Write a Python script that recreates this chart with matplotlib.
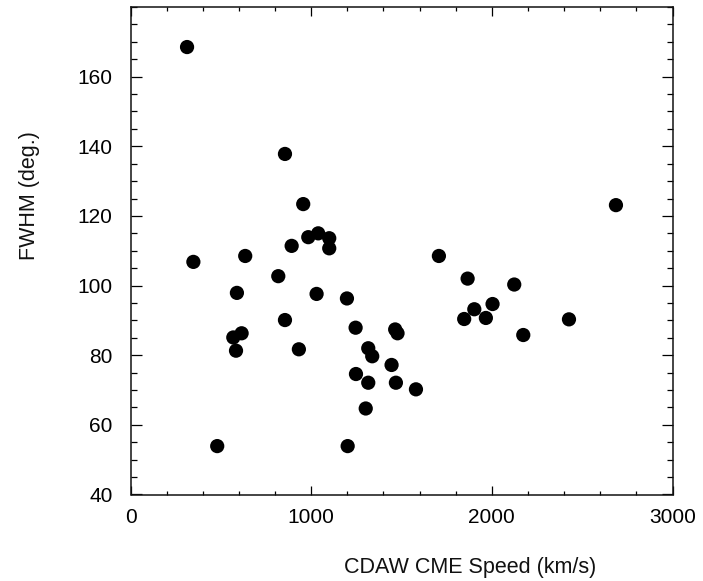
import matplotlib
matplotlib.use("Agg")
import matplotlib.pyplot as plt
from matplotlib.ticker import MultipleLocator

# CME speed (km/s) and FWHM (deg.)
speed = [313, 855, 956, 984, 1039, 1100, 1100, 892, 348, 635,
         818, 589, 1030, 1198, 855, 1246, 1465, 1478, 569, 615,
         584, 932, 1316, 1338, 1445, 1248, 1316, 1469, 1580, 1302,
         480, 1202, 1707, 1866, 2124, 2004, 1903, 1847, 1967, 2427,
         2174, 2687]
fwhm = [168.5, 137.8, 123.4, 113.9, 115.0, 113.6, 110.7, 111.4, 106.8, 108.5,
        102.7, 97.9, 97.6, 96.3, 90.1, 87.9, 87.4, 86.3, 85.1, 86.3,
        81.3, 81.7, 82.0, 79.7, 77.2, 74.6, 72.1, 72.1, 70.2, 64.7,
        53.9, 53.9, 108.5, 102.0, 100.3, 94.7, 93.2, 90.4, 90.7, 90.3,
        85.8, 123.1]

x_ticks = [0, 1000, 2000, 3000]
y_ticks = [40, 60, 80, 100, 120, 140, 160]

plt.rcParams.update({
    "font.family": ["Liberation Sans", "DejaVu Sans"],
    "font.size": 15,
    "text.color": "#111111",
})

fig = plt.figure(figsize=(7.03, 5.81), dpi=100)
ax = fig.add_axes([130.5 / 703, 86.5 / 581, 542 / 703, 487.5 / 581])

ax.scatter(speed, fwhm, s=105, color="black", edgecolors="none", zorder=3)

ax.set_xlim(0, 3000)
ax.set_ylim(40, 180)
ax.set_xticks(x_ticks)
ax.set_yticks(y_ticks)
ax.xaxis.set_minor_locator(MultipleLocator(200))
ax.yaxis.set_minor_locator(MultipleLocator(5))

for s in ax.spines.values():
    s.set_linewidth(1.1)
    s.set_color("#111111")

ax.tick_params(axis="x", which="major", direction="in", length=6.5, width=0.9,
               top=True, bottom=True, pad=10, labelsize=15)
ax.tick_params(axis="x", which="minor", direction="in", length=3, width=0.9,
               top=True, bottom=True)
ax.tick_params(axis="y", which="major", direction="in", length=8, width=0.9,
               left=True, right=True, pad=13, labelsize=15)
ax.tick_params(axis="y", which="minor", direction="in", length=4.3, width=0.9,
               left=True, right=True)

# axis titles sit off-centre in the original
fig.text(470 / 703, 1 - 567 / 581, "CDAW CME Speed (km/s)", ha="center", va="center",
         fontsize=15.5)
fig.text(30 / 703, 1 - 196 / 581, "FWHM (deg.)", ha="center", va="center",
         rotation=90, fontsize=15.5)

fig.savefig("out.png", dpi=100, facecolor="white")
